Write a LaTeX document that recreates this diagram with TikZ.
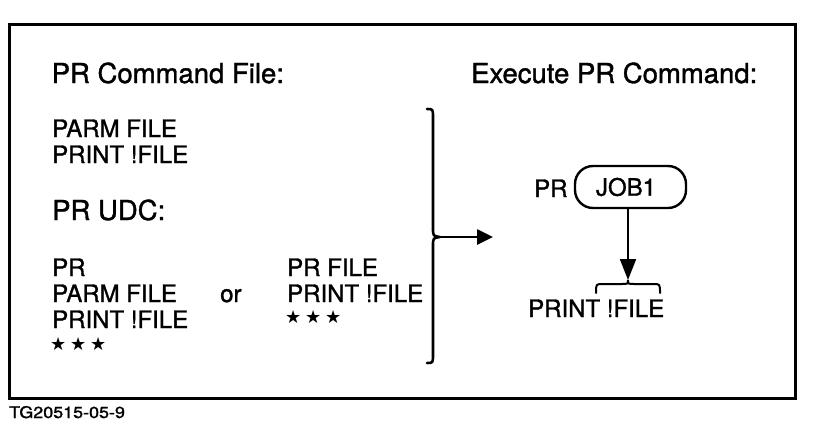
\documentclass[tikz,border=0pt]{standalone}
\usepackage{fontspec}
\setmainfont[FakeBold=1.3]{TeX Gyre Heros}
\newfontfamily\starfont{DejaVu Sans}
\usetikzlibrary{arrows.meta}
\newcommand{\bodyfont}{\fontsize{24}{26}\selectfont}
\newcommand{\headfont}{\fontsize{27.5}{30}\selectfont}
\newcommand{\tagfont}{\fontsize{16}{18}\selectfont}
\newcommand{\onestar}{\makebox[20pt][c]{★}}
\newcommand{\stars}{{\starfont\fontsize{18}{20}\selectfont\onestar\onestar\onestar}}
\begin{document}
\begin{tikzpicture}[x=1pt,y=-1pt,
  txt/.style={anchor=base west, inner sep=0pt, font=\bodyfont},
  head/.style={anchor=base west, inner sep=0pt, font=\headfont},
  starrow/.style={anchor=base west, inner sep=0pt},
  heavy/.style={line width=3pt},
  brace/.style={line width=2.6pt, line cap=round, line join=round},
  arr/.style={line width=2.6pt, -{Triangle[length=16pt,width=15pt]}},
  darr/.style={line width=2pt, -{Triangle[length=21pt,width=16pt]}},
  pill/.style={draw, line width=2.4pt, rounded corners=18pt, minimum width=111pt, minimum height=42pt, inner sep=0pt, font=\bodyfont}]
\useasboundingbox (0,0) rectangle (813,436);
% frame
\draw[heavy] (9,25) rectangle (795,398);
% headings
\node[head] (h1) at (51.5,83) {PR Command File:};
\node[head] (h2) at (471,83) {Execute PR Command:};
% command file
\node[txt] (c1) at (52,137) {PARM FILE};
\node[txt] (c2) at (52,163) {PRINT !FILE};
\node[head] (udc) at (52,220) {PR UDC:};
% UDC left column
\node[txt] (l1) at (52,276) {PR};
\node[txt] (l2) at (52,302) {PARM FILE};
\node[txt] (l3) at (52,328) {PRINT !FILE};
\node[starrow] (l4) at (48,350) {\stars};
\node[txt] (or) at (220,302) {or};
% UDC right column
\node[txt] (r1) at (287,276) {PR FILE};
\node[txt] (r2) at (287,302) {PRINT !FILE};
\node[starrow] (r3) at (283,323) {\stars};
% big brace
\coordinate (btip) at (440,237);
\draw[brace] (427,109) .. controls (433,109) .. (433,118) -- (433,228)
  .. controls (433,236) .. (btip) .. controls (433,238) .. (433,246)
  -- (433,354) .. controls (433,363) .. (427,363);
\coordinate (aend) at (493,237);
\draw[arr] (btip) -- (aend);
% execute side
\node[pill] (job) at (630.5,187) {\hspace{-9pt}JOB1};
\node[txt] (pr) at (534,197) {PR};
\coordinate (stip) at (628,280);
\draw[darr] (job.south -| stip) -- (stip);
\draw[line width=2pt, line cap=round] (596,293) .. controls (596,284) .. (603,284) -- (621,284)
  .. controls (628,284) .. (stip) .. controls (628,284) .. (635,284) -- (653,284)
  .. controls (660,284) .. (660,293);
\node[txt] (out) at (528,317) {PRINT !FILE};
% tag
\node[anchor=base west, inner sep=0pt, font=\tagfont] (tag) at (9,418) {\scalebox{1.12}[1]{TG20515-05-9}};
\end{tikzpicture}
\end{document}
